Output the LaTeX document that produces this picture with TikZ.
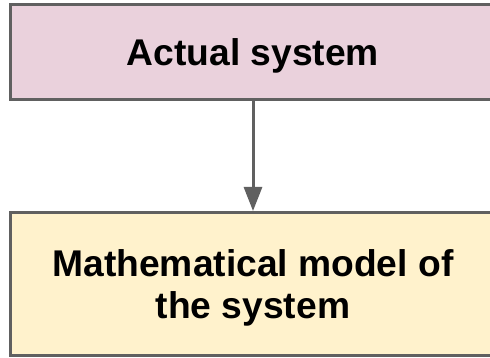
\documentclass[tikz,border=0pt]{standalone}
\usepackage{fontspec}
\setmainfont{Liberation Sans}
\usetikzlibrary{arrows.meta, positioning}
\definecolor{cSystem}{RGB}{234, 209, 220}
\definecolor{cModel}{RGB}{255, 242, 204}
\definecolor{bGray}{RGB}{96, 96, 96}

\begin{document}
\begin{tikzpicture}[
    x=1pt, y=1pt,
    font=\bfseries\fontsize{37.2}{41.5}\selectfont,
    block/.style={
        draw=bGray,
        fill=#1,
        line width=3pt,
        align=center,
        minimum width=485pt,
        inner sep=0pt,
        text depth=0pt
    },
    arrow/.style={-{Triangle[width=18pt, length=24pt]}, line width=3pt, color=bGray}
]

\useasboundingbox (0, 0) rectangle (490, -358);
\clip (0, 0) rectangle (490, -358);

\node[block=cSystem, minimum height=95pt] (actual) at (253, -52) {Actual system};

\node[block=cModel, minimum height=143pt, below=110pt of actual] (model) {
    Mathematical model of\\
    the system
};

\draw[arrow] (actual) -- (model);

\end{tikzpicture}
\end{document}
